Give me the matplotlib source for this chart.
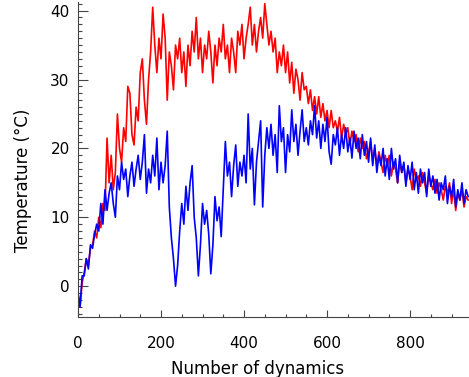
import matplotlib
matplotlib.use('Agg')
import matplotlib.pyplot as plt
import numpy as np
from matplotlib.ticker import MultipleLocator

# one value every 5 dynamics, 0..940
step = 5
red_temp = [
    -1, -3, 0.5, 2, 4, 3, 5.5, 6, 8, 7,
    10, 8.5, 12, 11, 21.5, 15, 19, 14, 16.5, 25,
    20, 18, 23, 21, 29, 28, 22, 20.5, 26, 24,
    31, 33, 27, 23.5, 30, 34, 40.5, 35, 31, 36,
    33, 39.5, 36, 27, 34, 32, 28.5, 35, 33, 36,
    31, 34, 29, 35, 32, 37, 34, 39, 33, 36,
    31, 35, 33, 37, 34, 29.5, 35, 32, 36, 34,
    38, 33, 35, 31, 36, 34, 31, 37, 35, 38,
    33, 36, 38, 40.5, 35, 38, 34, 37, 39, 36,
    41, 38, 35, 37, 34, 36, 31, 34, 32, 35,
    31, 34, 29.5, 32.5, 28, 31.5, 30, 27, 31, 28.5,
    29, 26.5, 28.5, 25.5, 27.5, 25, 27.5, 24.5, 26.5, 24,
    25.5, 23, 25.5, 23, 24, 22.5, 24.5, 21.5, 23.5, 22,
    23, 20.5, 22.5, 21, 22, 19.5, 21.5, 20, 21, 18.5,
    19.5, 21, 18, 20, 17.5, 19.5, 18, 16.5, 19, 17.5,
    19, 16, 18, 17, 15, 18, 16.5, 17.5, 15, 17,
    16, 14, 17, 15.5, 16, 14.5, 16.5, 15, 13.5, 16,
    15, 14, 15.5, 13.5, 15, 14, 12.5, 14.5, 13.5, 15,
    12, 14, 11, 13.5, 12.5, 14, 11.5, 13, 12.5,
]
blue_temp = [
    -1, -3, 1.5, 1.5, 4, 2.5, 6, 5.5, 7.5, 9,
    8, 12, 9, 14, 11, 13.5, 15, 12, 10, 16,
    14, 18, 15.5, 17, 13, 16, 18, 14.5, 17, 19,
    15.5, 18, 22, 13.5, 17, 15, 19, 16, 21.5, 14,
    18, 15, 17.5, 22.5, 11.5, 7, 4, 0, 3, 8,
    12, 9, 14.5, 11, 15, 17.5, 10, 7, 1.5, 6,
    12, 9, 11, 7.5, 1.8, 6, 13, 9.5, 11.5, 7.2,
    14, 21, 16, 18, 13, 17.5, 20.5, 14.5, 18, 16,
    19, 15, 25, 17, 20, 11.8, 18, 21, 24, 11.5,
    19, 23, 20, 23.5, 19, 22, 16.5, 26.2, 21, 23,
    16.5, 22, 19.5, 25.6, 21, 23.5, 19, 22.5, 25.6, 21,
    23, 20.5, 24, 22, 26.2, 21.5, 24, 20, 23.5, 21,
    24.5, 19.5, 17.7, 22, 20.5, 23, 19, 22, 20, 23,
    19.5, 21.5, 18.6, 22.5, 20, 21.5, 18.5, 22, 19, 21,
    18, 21.5, 17.5, 20.5, 16.5, 19, 17.5, 20, 16, 18.5,
    15.5, 20, 17, 18.5, 15, 19, 16.5, 18, 14.5, 17.5,
    15.5, 18, 14, 16.5, 13.5, 17, 15, 16.5, 13, 17,
    14.5, 16, 13.5, 15.5, 12.5, 15, 14, 16, 12, 14.5,
    13, 15.5, 11.5, 14, 12.5, 15, 12, 14, 13,
]
dynamics = np.arange(len(red_temp)) * step

plt.rcParams['font.family'] = ['DejaVu Sans']

fig = plt.figure(figsize=(4.69, 3.77), dpi=100)
ax = fig.add_axes([0.1663, 0.1592, 0.8337, 0.8355])

ax.plot(dynamics, red_temp, color='#ff0000', lw=1.2)
ax.plot(dynamics, blue_temp, color='#0000ff', lw=1.2)

ax.set_xlim(0, 942)
ax.set_ylim(-4.47, 41.25)

ax.spines['top'].set_visible(False)
ax.spines['right'].set_visible(False)
for s in ['left', 'bottom']:
    ax.spines[s].set_color('#444444')
    ax.spines[s].set_linewidth(0.8)

ax.xaxis.set_major_locator(MultipleLocator(200))
ax.xaxis.set_minor_locator(MultipleLocator(50))
ax.yaxis.set_major_locator(MultipleLocator(10))
ax.yaxis.set_minor_locator(MultipleLocator(1))
ax.tick_params(axis='both', which='both', direction='in', colors='#444444',
               labelcolor='black', labelsize=11)
ax.tick_params(axis='x', which='major', length=5, width=0.8, pad=14)
ax.tick_params(axis='x', which='minor', length=2.5, width=0.8)
ax.tick_params(axis='y', which='major', length=7, width=0.8, pad=6)
ax.tick_params(axis='y', which='minor', length=3, width=0.8)

ax.set_xlabel('Number of dynamics', fontsize=12)
ax.xaxis.set_label_coords(0.459, -0.135)
ax.set_ylabel('Temperature (°C)', fontsize=12)
ax.yaxis.set_label_coords(-0.118, 0.435)

fig.savefig('out.png', dpi=100)
